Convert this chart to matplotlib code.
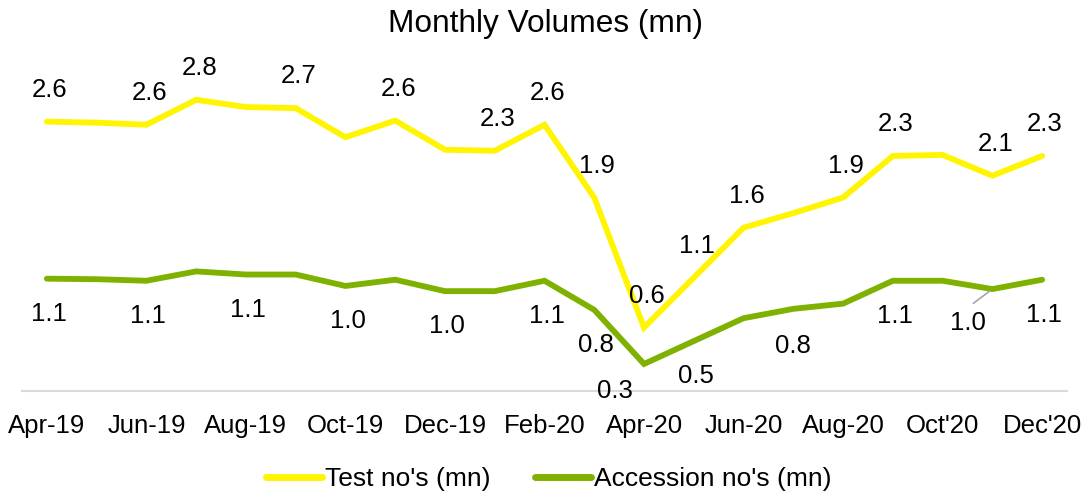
import matplotlib
matplotlib.use("Agg")
import matplotlib.pyplot as plt

plt.rcParams["font.family"] = ["Liberation Sans", "DejaVu Sans"]

# chart data
months = ["Apr-19", "May-19", "Jun-19", "Jul-19", "Aug-19", "Sep-19", "Oct-19",
          "Nov-19", "Dec-19", "Jan-20", "Feb-20", "Mar-20", "Apr-20", "May-20",
          "Jun-20", "Jul-20", "Aug-20", "Sep-20", "Oct'20", "Nov-20", "Dec'20"]
test_nos = [2.59, 2.58, 2.56, 2.80, 2.73, 2.72, 2.44, 2.60, 2.32, 2.31, 2.56,
            1.86, 0.61, 1.09, 1.57, 1.71, 1.86, 2.26, 2.27, 2.07, 2.26]
accession_nos = [1.08, 1.075, 1.06, 1.15, 1.12, 1.12, 1.01, 1.07, 0.96, 0.96,
                 1.06, 0.78, 0.26, 0.48, 0.70, 0.79, 0.84, 1.06, 1.06, 0.98, 1.07]
test_labelled = [0, 2, 3, 5, 7, 9, 10, 11, 12, 13, 14, 16, 17, 19, 20]
accession_labelled = [0, 2, 4, 6, 8, 10, 11, 12, 13, 16, 17, 19, 20]
tick_labels = months[::2]

YELLOW = "#FFF500"
GREEN = "#7FB100"
PX = 0.72  # points per pixel at 100 dpi

fig = plt.figure(figsize=(10.83, 4.92), dpi=100)
ax = fig.add_axes([22 / 1083, 101 / 492, 1045 / 1083, 312 / 492])

x = list(range(len(months)))
ax.plot(x, test_nos, color=YELLOW, lw=4.2, label="Test no's (mn)",
        solid_capstyle="round", solid_joinstyle="miter", zorder=3)
ax.plot(x, accession_nos, color=GREEN, lw=4.2, label="Accession no's (mn)",
        solid_capstyle="round", solid_joinstyle="miter", zorder=3)

ax.set_xlim(-0.5, len(months) - 0.5)
ax.set_ylim(0, 3.0)
ax.set_xticks(x[::2])
ax.set_xticklabels(tick_labels, fontsize=18.5)
ax.tick_params(axis="x", length=0, pad=16.5)
ax.set_yticks([])
for side in ["top", "left", "right"]:
    ax.spines[side].set_visible(False)
ax.spines["bottom"].set_color("#D9D9D9")
ax.spines["bottom"].set_linewidth(1.5)

# data labels (pixel offsets from point)
for i in test_labelled:
    ax.annotate(f"{test_nos[i]:.1f}", (i, test_nos[i]),
                xytext=(3 * PX, 32 * PX), textcoords="offset points",
                ha="center", va="center", fontsize=18.5, zorder=5)

special = {12: (-29, -27), 16: (-50, -42), 19: (-24, -34)}
for i in accession_labelled:
    dx, dy = special.get(i, (2, -35))
    kw = {}
    if i == 19:
        kw["arrowprops"] = dict(arrowstyle="-", color="#A6A6A6", lw=1.2,
                                relpos=(0.35, 1.0), shrinkA=6, shrinkB=3)
    ax.annotate(f"{accession_nos[i]:.1f}", (i, accession_nos[i]),
                xytext=(dx * PX, dy * PX), textcoords="offset points",
                ha="center", va="center", fontsize=18.5, zorder=5,
                annotation_clip=False, **kw)

fig.text(545 / 1083, 1 - 24 / 492, "Monthly Volumes (mn)", ha="center",
         va="center", fontsize=22.8)

leg = fig.legend(loc="center", bbox_to_anchor=(549 / 1083, 1 - 479 / 492),
                 ncol=2, frameon=False, fontsize=19, handlelength=2.1,
                 handletextpad=0.12, columnspacing=1.7)
for line in leg.get_lines():
    line.set_linewidth(5)

fig.savefig("out.png", dpi=100)
